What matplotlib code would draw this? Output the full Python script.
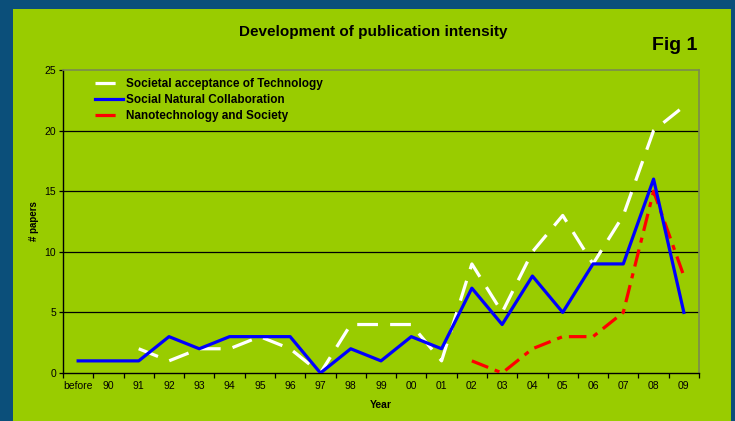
import matplotlib
matplotlib.use("Agg")
import matplotlib.pyplot as plt
import numpy as np
from matplotlib.lines import Line2D
from matplotlib.patches import Rectangle

plt.rcParams['font.family'] = ['Liberation Sans', 'DejaVu Sans']

years = ["before", "90", "91", "92", "93", "94", "95", "96", "97", "98", "99",
         "00", "01", "02", "03", "04", "05", "06", "07", "08", "09"]
nan = np.nan
societal = [nan, nan, 2, 1, 2, 2, 3, 2, 0, 4, 4, 4, 1, 9, 5, 10, 13, 9, 13, 20, 22]
social_natural = [1, 1, 1, 3, 2, 3, 3, 3, 0, 2, 1, 3, 2, 7, 4, 8, 5, 9, 9, 16, 5]
nano = [nan, nan, nan, nan, nan, nan, nan, nan, nan, nan, nan, nan, nan,
        1, 0, 2, 3, 3, 5, 15, 8]
labels = ["Societal acceptance of Technology", "Social Natural Collaboration",
          "Nanotechnology and Society"]
yticks = [0, 5, 10, 15, 20, 25]

GREEN = "#99CC00"
BORDER = "#0B4F7A"

W, H = 735, 421
fig = plt.figure(figsize=(W / 100, H / 100), dpi=100)
fig.patch.set_facecolor(BORDER)
fig.add_artist(Rectangle((13 / W, 0), (731 - 13) / W, (H - 9) / H,
                         transform=fig.transFigure, facecolor=GREEN,
                         edgecolor="none", zorder=0))

ax = fig.add_axes([63 / W, (H - 373) / H, (699 - 63) / W, (373 - 70) / H])
ax.set_facecolor(GREEN)

x = np.arange(len(years))
lw = 2.3
ax.plot(x, societal, color="white", lw=lw, dashes=(6.5, 3.8), zorder=3)
ax.plot(x, social_natural, color="#0000FF", lw=lw, zorder=4)
ax.plot(x, nano, color="#FF0000", lw=lw, dashes=(5.5, 2.2, 1.6, 2.2), zorder=3)

ax.set_xlim(-0.5, len(years) - 0.5)
ax.set_ylim(0, 25)
ax.set_yticks(yticks)
ax.set_yticklabels([str(v) for v in yticks], fontsize=7.5)
for v in yticks[1:-1]:
    ax.axhline(v, color="black", lw=0.9, zorder=1)

ax.set_xticks(np.arange(-0.5, len(years), 1.0))
ax.set_xticklabels([])
ax.set_xticks(x, minor=True)
ax.set_xticklabels(years, minor=True, fontsize=7.5)
ax.tick_params(axis="x", which="major", direction="out", length=3.5, width=0.9, color="black")
ax.tick_params(axis="x", which="minor", length=0, pad=5.5)
ax.tick_params(axis="y", direction="out", length=3, width=0.9, color="black", pad=2)

for s in ["left", "bottom"]:
    ax.spines[s].set_color("black")
    ax.spines[s].set_linewidth(1.0)
for s in ["top", "right"]:
    ax.spines[s].set_color("#7A8A50")
    ax.spines[s].set_linewidth(1.2)

ax.set_xlabel("Year", fontsize=7.5, fontweight="bold", labelpad=7)
ax.set_ylabel("# papers", fontsize=7, fontweight="bold", labelpad=4)

handles = [Line2D([], [], color="white", lw=lw, dashes=(6.3, 10)),
           Line2D([], [], color="#0000FF", lw=lw),
           Line2D([], [], color="#FF0000", lw=lw, dashes=(6.3, 10))]
leg = ax.legend(handles, labels, loc="upper left", bbox_to_anchor=(0.037, 1.0),
                frameon=False, prop={"size": 8.5, "weight": "bold"},
                handlelength=2.37, handletextpad=0.25, labelspacing=0.32,
                borderaxespad=0.3)

fig.text(373 / W, (H - 32) / H, "Development of publication intensity",
         ha="center", va="center", fontsize=11, fontweight="bold")
fig.text(675 / W, (H - 45) / H, "Fig 1", ha="center", va="center",
         fontsize=14, fontweight="bold")

fig.savefig("out.png", dpi=100, facecolor=fig.get_facecolor())
